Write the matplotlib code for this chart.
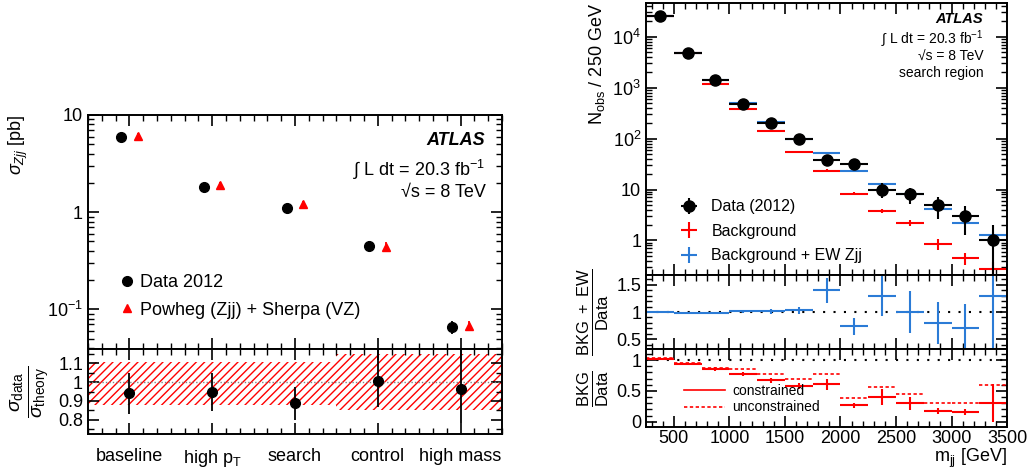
import numpy as np
import matplotlib
matplotlib.use('Agg')
import matplotlib.pyplot as plt
from matplotlib.ticker import MultipleLocator, LogLocator, NullFormatter
from matplotlib.patches import Rectangle
from matplotlib.lines import Line2D

plt.rcParams['font.family'] = ['Liberation Sans', 'DejaVu Sans']
plt.rcParams['mathtext.fontset'] = 'custom'
plt.rcParams['mathtext.rm'] = 'Liberation Sans'
plt.rcParams['mathtext.it'] = 'Liberation Sans:italic'
plt.rcParams['mathtext.bf'] = 'Liberation Sans:bold'
plt.rcParams['hatch.linewidth'] = 1.0
plt.rcParams['font.size'] = 11

# ---- left: cross sections per region ----
regions = ['baseline', 'high p$_\\mathrm{T}$', 'search', 'control', 'high mass']
xs_data = [5.9, 1.82, 1.11, 0.45, 0.066]
xs_data_err = [0.5, 0.12, 0.07, 0.05, 0.01]
xs_theory = [6.1, 1.9, 1.21, 0.44, 0.068]
xs_theory_err = [0.45, 0.15, 0.1, 0.05, 0.008]
ratio = [0.94, 0.946, 0.89, 1.007, 0.963]
ratio_lo = [0.11, 0.10, 0.09, 0.14, 0.18]
ratio_hi = [0.107, 0.104, 0.085, 0.17, 0.21]
band_lo = [0.88, 0.85]
band_hi = [1.105, 1.15]
band_x = [-0.5, 2.5, 4.5]

# ---- right: mjj distribution ----
bin_edges = [250, 500, 750, 1000, 1250, 1500, 1750, 2000, 2250, 2500, 2750, 3000, 3250, 3500]
n_obs = [25000, 4850, 1410, 485, 206, 97, 38, 31.5, 10, 8, 4.9, 3, 1]
n_obs_err = [158, 70, 37.5, 22, 14.4, 9.8, 6.2, 5.6, 3.2, 2.8, 2.2, 1.7, 1.0]
bkg = [25300, 4730, 1180, 388, 141, 55.6, 23.6, 8.3, 3.8, 2.2, 0.85, 0.45, 0.28]
bkg_err = [300, 60, 20, 8, 4, 2.2, 1.3, 0.5, 0.4, 0.3, 0.2, 0.12, 0.1]
bkg_ew = [25200, 4800, 1400, 490, 208, 99, 53, 23.6, 12.9, 8, 4.1, 2.2, 1.3]
bkg_ew_err = [300, 60, 20, 8, 4, 2.5, 1.5, 0.8, 0.5, 0.4, 0.3, 0.2, 0.15]
r_ew = [1.0, 0.976, 0.98, 1.01, 1.01, 1.03, 1.40, 0.735, 1.30, 1.0, 0.80, 0.70, 1.30]
r_ew_err = [0.01, 0.015, 0.02, 0.03, 0.05, 0.07, 0.23, 0.15, 0.38, 0.39, 0.39, 0.45, 1.3]
r_bkg = [1.02, 0.94, 0.854, 0.77, 0.675, 0.58, 0.61, 0.27, 0.40, 0.297, 0.17, 0.155, 0.30]
r_bkg_err = [0.02, 0.02, 0.03, 0.03, 0.04, 0.05, 0.09, 0.04, 0.13, 0.11, 0.05, 0.05, 0.31]
r_bkg_unc = [1.03, 0.95, 0.87, 0.854, 0.77, 0.69, 0.78, 0.38, 0.57, 0.45, 0.31, 0.30, 0.60]

red = '#ff0000'
blue = '#2b7bd6'

fig = plt.figure(figsize=(10.35, 4.7), dpi=100)


def style(ax):
    ax.tick_params(which='both', direction='in', top=True, right=True, labelsize=13)
    ax.tick_params(which='major', length=8, width=1.2)
    ax.tick_params(which='minor', length=4, width=1.0)
    for s in ax.spines.values():
        s.set_linewidth(1.4)


# left main
axl = fig.add_axes([0.085, 0.2574, 0.4, 0.498])
axr = fig.add_axes([0.085, 0.0766, 0.4, 0.1808], sharex=axl)
xpos = np.arange(len(regions))
axl.set_yscale('log')
axl.errorbar(xpos - 0.1, xs_data, yerr=xs_data_err, fmt='o', color='black', ms=7,
             elinewidth=1.3, capsize=0)
axl.errorbar(xpos + 0.1, xs_theory, yerr=xs_theory_err, fmt='^', color=red, ms=6,
             elinewidth=1.3, capsize=0)
axl.set_xlim(-0.5, 4.5)
axl.set_ylim(0.039, 10)
axl.set_yticks([0.1, 1, 10])
axl.set_yticklabels(['$10^{-1}$', '1', '10'])
axl.yaxis.set_minor_locator(LogLocator(base=10, subs=np.arange(2, 10)))
axl.yaxis.set_minor_formatter(NullFormatter())
axl.xaxis.set_major_locator(MultipleLocator(1))
axl.xaxis.set_minor_locator(MultipleLocator(1 / 6))
axl.tick_params(labelbottom=False)
style(axl)
axl.set_ylabel('$\\sigma_{Zjj}$ [pb]', loc='top', fontsize=13, labelpad=12)
left_handles = [Line2D([], [], ls='none', marker='o', color='black', ms=7),
                Line2D([], [], ls='none', marker='^', color=red, ms=6)]
axl.legend(left_handles, ['Data 2012', 'Powheg (Zjj) + Sherpa (VZ)'], loc='lower left',
           bbox_to_anchor=(0.03, 0.06), frameon=False, fontsize=13,
           handletextpad=0.1, labelspacing=0.6, handlelength=1.2)
axl.text(0.96, 0.89, 'ATLAS', transform=axl.transAxes, ha='right', va='center',
         fontsize=13, fontweight='bold', style='italic')
axl.text(0.96, 0.765, '\u222b L dt = 20.3 fb$^{-1}$', transform=axl.transAxes,
         ha='right', va='center', fontsize=13)
axl.text(0.96, 0.667, '\u221as = 8 TeV', transform=axl.transAxes,
         ha='right', va='center', fontsize=13)

# left ratio
for i in range(len(band_lo)):
    axr.add_patch(Rectangle((band_x[i], band_lo[i]), band_x[i + 1] - band_x[i],
                            band_hi[i] - band_lo[i], facecolor='none',
                            edgecolor=red, hatch='////', linewidth=0))
axr.axhline(1.0, color='gray', ls=(0, (1, 1.5)), lw=1)
axr.errorbar(xpos, ratio, yerr=[ratio_lo, ratio_hi], fmt='o', color='black', ms=7,
             elinewidth=1.3, capsize=0)
axr.set_ylim(0.726, 1.174)
axr.yaxis.set_minor_locator(MultipleLocator(0.05))
axr.set_yticks([0.8, 0.9, 1.0, 1.1])
axr.set_yticklabels(['0.8', '0.9', '1', '1.1'])
axr.set_xticks(xpos)
axr.set_xticklabels(regions)
style(axr)
axr.tick_params(axis='x', which='major', pad=10)
axr.set_ylabel('$\\frac{\\sigma_{\\mathrm{data}}}{\\sigma_{\\mathrm{theory}}}$', fontsize=20,
               labelpad=4)

# right main
edges = np.array(bin_edges)
centers = 0.5 * (edges[1:] + edges[:-1])
half = 0.5 * np.diff(edges)
ax1 = fig.add_axes([0.6242, 0.4149, 0.3488, 0.5787])
ax2 = fig.add_axes([0.6242, 0.2574, 0.3488, 0.1575], sharex=ax1)
ax3 = fig.add_axes([0.6242, 0.0915, 0.3488, 0.1659], sharex=ax1)
ax1.set_yscale('log')
ax1.errorbar(centers, bkg, xerr=half, yerr=bkg_err, fmt='none', ecolor=red, elinewidth=1.5,
             label='Background')
ax1.errorbar(centers, bkg_ew, xerr=half, yerr=bkg_ew_err, fmt='none', ecolor=blue,
             elinewidth=1.5, label='Background + EW Zjj')
ax1.errorbar(centers, n_obs, xerr=half, yerr=n_obs_err, fmt='o', color='black', ms=8,
             elinewidth=1.5, label='Data (2012)')
ax1.set_xlim(250, 3500)
ax1.set_ylim(0.21, 4.6e4)
ax1.set_yticks([1, 10, 100, 1000, 10000])
ax1.set_yticklabels(['1', '10', '$10^2$', '$10^3$', '$10^4$'])
ax1.yaxis.set_minor_locator(LogLocator(base=10, subs=np.arange(2, 10)))
ax1.yaxis.set_minor_formatter(NullFormatter())
ax1.xaxis.set_major_locator(MultipleLocator(500))
ax1.xaxis.set_minor_locator(MultipleLocator(100))
ax1.tick_params(labelbottom=False)
style(ax1)
ax1.set_ylabel('N$_{\\mathrm{obs}}$ / 250 GeV', loc='top', fontsize=13)
h, l = ax1.get_legend_handles_labels()
ax1.legend([h[2], h[0], h[1]], [l[2], l[0], l[1]], loc='lower left',
           bbox_to_anchor=(0.035, -0.01), frameon=False, fontsize=11.5,
           handletextpad=0.4, labelspacing=0.6, handlelength=2.0)
ax1.text(0.934, 0.94, 'ATLAS', transform=ax1.transAxes, ha='right', va='center',
         fontsize=10.5, fontweight='bold', style='italic')
ax1.text(0.934, 0.866, '\u222b L dt = 20.3 fb$^{-1}$', transform=ax1.transAxes,
         ha='right', va='center', fontsize=10)
ax1.text(0.934, 0.802, '\u221as = 8 TeV', transform=ax1.transAxes,
         ha='right', va='center', fontsize=10)
ax1.text(0.934, 0.742, 'search region', transform=ax1.transAxes,
         ha='right', va='center', fontsize=10)

# ratio BKG+EW / Data
ax2.axhline(1.0, color='black', ls=(0, (1, 4)), lw=1.5)
ax2.errorbar(centers, r_ew, xerr=half, yerr=r_ew_err, fmt='none', ecolor=blue, elinewidth=1.5)
ax2.set_ylim(0.32, 1.68)
ax2.set_yticks([0.5, 1.0, 1.5])
ax2.set_yticklabels(['0.5', '1', '1.5'])
ax2.yaxis.set_minor_locator(MultipleLocator(0.1))
ax2.tick_params(labelbottom=False)
style(ax2)
ax2.set_ylabel('$\\frac{\\mathrm{BKG\\ +\\ EW}}{\\mathrm{Data}}$', fontsize=17)

# ratio BKG / Data
ax3.axhline(1.0, color='black', ls=(0, (1, 4)), lw=1.5)
ax3.errorbar(centers, r_bkg, xerr=half, yerr=r_bkg_err, fmt='none', ecolor=red, elinewidth=1.5)
ax3.hlines(r_bkg_unc, edges[:-1], edges[1:], colors=red, linestyles=(0, (2, 1.5)), lw=1.2)
ax3.set_ylim(-0.086, 1.18)
ax3.set_yticks([0, 0.5, 1.0])
ax3.set_yticklabels(['0', '0.5', '1'])
ax3.yaxis.set_minor_locator(MultipleLocator(0.1))
style(ax3)
ax3.tick_params(axis='x', which='major', pad=2)
ax3.set_xlabel('m$_{\\mathrm{jj}}$ [GeV]', loc='right', fontsize=13, labelpad=0)
ax3.set_ylabel('$\\frac{\\mathrm{BKG}}{\\mathrm{Data}}$', fontsize=17)
leg_lines = [Line2D([], [], color=red, lw=1.2), Line2D([], [], color=red, lw=1.2, ls=(0, (2, 1.5)))]
ax3.legend(leg_lines, ['constrained', 'unconstrained'], loc='lower left',
           bbox_to_anchor=(0.07, 0.0), frameon=False, fontsize=10,
           handletextpad=0.5, labelspacing=0.2, handlelength=3.0)

fig.align_ylabels([ax1, ax2, ax3])
fig.savefig('out.png', dpi=100)
